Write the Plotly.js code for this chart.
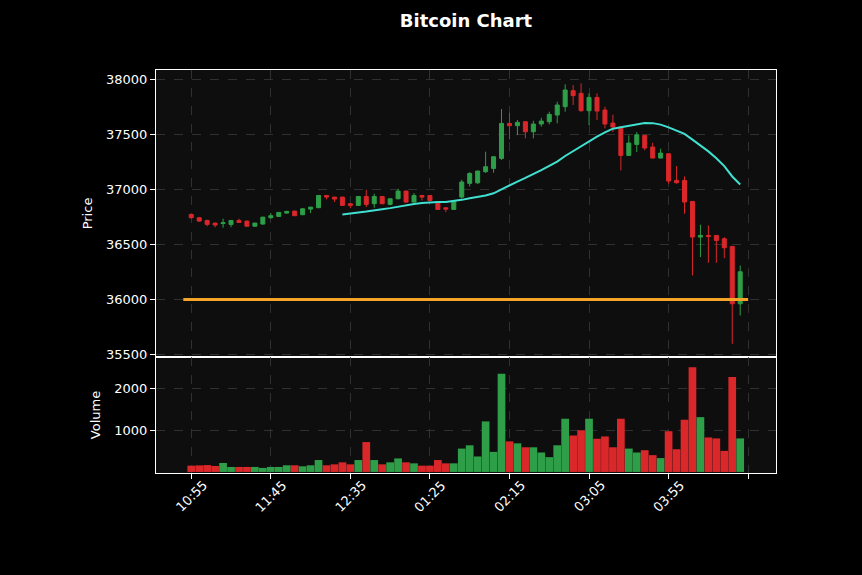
<!DOCTYPE html>
<html>
<head>
<meta charset="utf-8">
<script src="https://cdn.plot.ly/plotly-3.0.1.min.js"></script>
<style>
  html, body { margin: 0; padding: 0; background: #000; }
  #chart { width: 862px; height: 575px; }
</style>
</head>
<body>
<div id="chart"></div>
<script>
// 5-minute candles, 10:55 .. 04:40
const opens = [36773, 36743, 36718, 36694, 36690, 36682, 36718, 36712, 36666, 36685,
  36743, 36755, 36785, 36803, 36770, 36821, 36834, 36945, 36930, 36930,
  36870, 36855, 36936, 36870, 36936, 36864, 36915, 36985, 36885, 36945,
  36945, 36879, 36833, 36818, 36930, 37055, 37060, 37161, 37191, 37282,
  37600, 37579, 37615, 37524, 37594, 37615, 37676, 37752, 37897, 37873,
  37715, 37836, 37721, 37603, 37567, 37309, 37409, 37491, 37385, 37285,
  37324, 37082, 37082, 36891, 36567, 36582, 36582, 36552, 36482, 35961];
const highs = [36782, 36750, 36725, 36700, 36734, 36722, 36734, 36718, 36697, 36752,
  36785, 36794, 36806, 36806, 36827, 36842, 36948, 36948, 36933, 36933,
  36873, 36940, 36997, 36961, 36940, 36918, 37006, 36988, 36967, 36948,
  36948, 36882, 36836, 36897, 37088, 37157, 37170, 37343, 37300, 37730,
  37697, 37630, 37618, 37624, 37651, 37706, 37797, 37955, 37948, 37964,
  37873, 37873, 37752, 37679, 37570, 37491, 37521, 37494, 37424, 37370,
  37327, 37212, 37118, 36894, 36679, 36673, 36585, 36567, 36485, 36309];
const lows = [36735, 36705, 36665, 36655, 36652, 36657, 36695, 36662, 36660, 36680,
  36734, 36750, 36780, 36758, 36766, 36785, 36830, 36909, 36885, 36850,
  36830, 36850, 36839, 36833, 36865, 36855, 36910, 36880, 36882, 36900,
  36897, 36815, 36794, 36815, 36915, 37027, 37050, 37150, 37152, 37267,
  37455, 37494, 37464, 37464, 37570, 37591, 37600, 37706, 37767, 37706,
  37585, 37630, 37555, 37521, 37173, 37305, 37339, 37355, 37282, 37282,
  37052, 37052, 36779, 36218, 36385, 36333, 36333, 36376, 35597, 35855];
const closes = [36743, 36712, 36682, 36676, 36697, 36718, 36700, 36666, 36694, 36748,
  36761, 36791, 36800, 36761, 36824, 36839, 36945, 36930, 36912, 36855,
  36855, 36936, 36864, 36936, 36870, 36915, 36985, 36885, 36945, 36930,
  36900, 36818, 36821, 36894, 37067, 37145, 37167, 37206, 37297, 37600,
  37579, 37609, 37524, 37594, 37621, 37682, 37767, 37903, 37852, 37715,
  37836, 37712, 37594, 37567, 37309, 37421, 37497, 37376, 37285, 37330,
  37076, 37061, 36885, 36567, 36582, 36573, 36536, 36470, 35961, 36252];
const volumes = [151, 158, 165, 144, 215, 120, 120, 120, 120, 97,
  120, 120, 160, 160, 136, 160, 286, 160, 183, 231,
  183, 286, 718, 286, 183, 231, 325, 231, 207, 151,
  151, 286, 207, 207, 561, 640, 372, 1213, 482, 2355,
  734, 687, 592, 592, 467, 356, 640, 1277, 875, 1001,
  1277, 797, 852, 592, 1277, 561, 467, 522, 404, 333,
  978, 545, 1253, 2512, 1316, 828, 805, 506, 2276, 805];
const tickLabels = ['10:55', '11:45', '12:35', '01:25', '02:15', '03:05', '03:55', ''];
const supportLevel = 36000;
const maWindow = 20;

const UP = '#2e9e48';
const DOWN = '#d9272a';

const idx = closes.map((_, i) => i);

// simple moving average of the closes
const maX = [];
const maY = [];
for (let i = maWindow - 1; i < closes.length; i++) {
  let s = 0;
  for (let j = i - maWindow + 1; j <= i; j++) s += closes[j];
  maX.push(i);
  maY.push(s / maWindow);
}

const volColors = closes.map((c, i) => (c >= opens[i] ? UP : DOWN));

const candles = {
  type: 'candlestick',
  x: idx, open: opens, high: highs, low: lows, close: closes,
  xaxis: 'x', yaxis: 'y',
  increasing: { line: { color: UP, width: 1 }, fillcolor: UP },
  decreasing: { line: { color: DOWN, width: 1 }, fillcolor: DOWN },
  hoverinfo: 'skip'
};

const ma = {
  type: 'scatter', mode: 'lines',
  x: maX, y: maY,
  xaxis: 'x', yaxis: 'y',
  line: { color: '#40e0d0', width: 2 },
  hoverinfo: 'skip'
};

const level = {
  type: 'scatter', mode: 'lines',
  x: [-1, closes.length], y: [supportLevel, supportLevel],
  xaxis: 'x', yaxis: 'y',
  line: { color: '#f5a42a', width: 3 },
  hoverinfo: 'skip'
};

const vol = {
  type: 'bar',
  x: idx, y: volumes,
  xaxis: 'x2', yaxis: 'y2',
  marker: { color: volColors, line: { width: 0 } },
  hoverinfo: 'skip'
};

const tickFont = { family: 'DejaVu Sans', size: 13, color: '#ffffff' };
const gridStyle = { showgrid: true, gridcolor: '#3a3a3a', gridwidth: 0.8, griddash: 'dash' };
const xRange = [-4.43, 73.5];
const tickvals = tickLabels.map((_, i) => i * 10);

// rotated time labels, centred under each tick like the original
const timeLabels = tickLabels.map((t, i) => ({
  text: t, x: tickvals[i], xref: 'x2',
  y: -0.058, yref: 'paper',
  xanchor: 'center', yanchor: 'middle',
  textangle: -45, showarrow: false,
  font: tickFont
})).filter(a => a.text !== '');

const layout = {
  width: 862,
  height: 575,
  paper_bgcolor: '#000000',
  plot_bgcolor: '#0e0e0e',
  showlegend: false,
  boxgap: 0.28,
  bargap: 0.03,
  margin: { l: 156, r: 86, t: 70, b: 102, pad: 0 },
  title: {
    text: 'Bitcoin Chart',
    x: 0.5, xref: 'paper',
    y: 1 - 21 / 575, yref: 'container', yanchor: 'middle',
    font: { family: 'DejaVu Sans', size: 18, color: '#ffffff', weight: 'bold' }
  },
  annotations: timeLabels,
  xaxis: Object.assign({
    domain: [0, 1], anchor: 'y', range: xRange,
    tickvals: tickvals, ticktext: tickLabels,
    showticklabels: false, ticks: '',
    showline: true, mirror: true, linecolor: '#ffffff', linewidth: 1,
    zeroline: false, fixedrange: true,
    rangeslider: { visible: false }
  }, gridStyle),
  xaxis2: Object.assign({
    domain: [0, 1], anchor: 'y2', range: xRange, matches: 'x',
    tickvals: tickvals, ticktext: tickLabels,
    showticklabels: false,
    ticks: 'outside', ticklen: 5, tickcolor: '#ffffff',
    showline: true, mirror: true, linecolor: '#ffffff', linewidth: 1,
    zeroline: false, fixedrange: true
  }, gridStyle),
  yaxis: Object.assign({
    domain: [0.288, 1], anchor: 'x', range: [35478, 38085],
    tickvals: [35500, 36000, 36500, 37000, 37500, 38000], tickformat: 'd',
    tickfont: tickFont, ticks: 'outside', ticklen: 5, tickcolor: '#ffffff',
    showline: true, mirror: true, linecolor: '#ffffff', linewidth: 1,
    zeroline: false, fixedrange: true,
    title: { text: 'Price', font: tickFont, standoff: 10 }
  }, gridStyle),
  yaxis2: Object.assign({
    domain: [0, 0.288], anchor: 'x2', range: [-25, 2760],
    tickvals: [1000, 2000], tickformat: 'd',
    tickfont: tickFont, ticks: 'outside', ticklen: 5, tickcolor: '#ffffff',
    showline: true, mirror: true, linecolor: '#ffffff', linewidth: 1,
    zeroline: false, fixedrange: true,
    title: { text: 'Volume', font: tickFont, standoff: 10 }
  }, gridStyle)
};

Plotly.newPlot('chart', [level, candles, ma, vol], layout, { displayModeBar: false, staticPlot: true });
</script>
</body>
</html>
